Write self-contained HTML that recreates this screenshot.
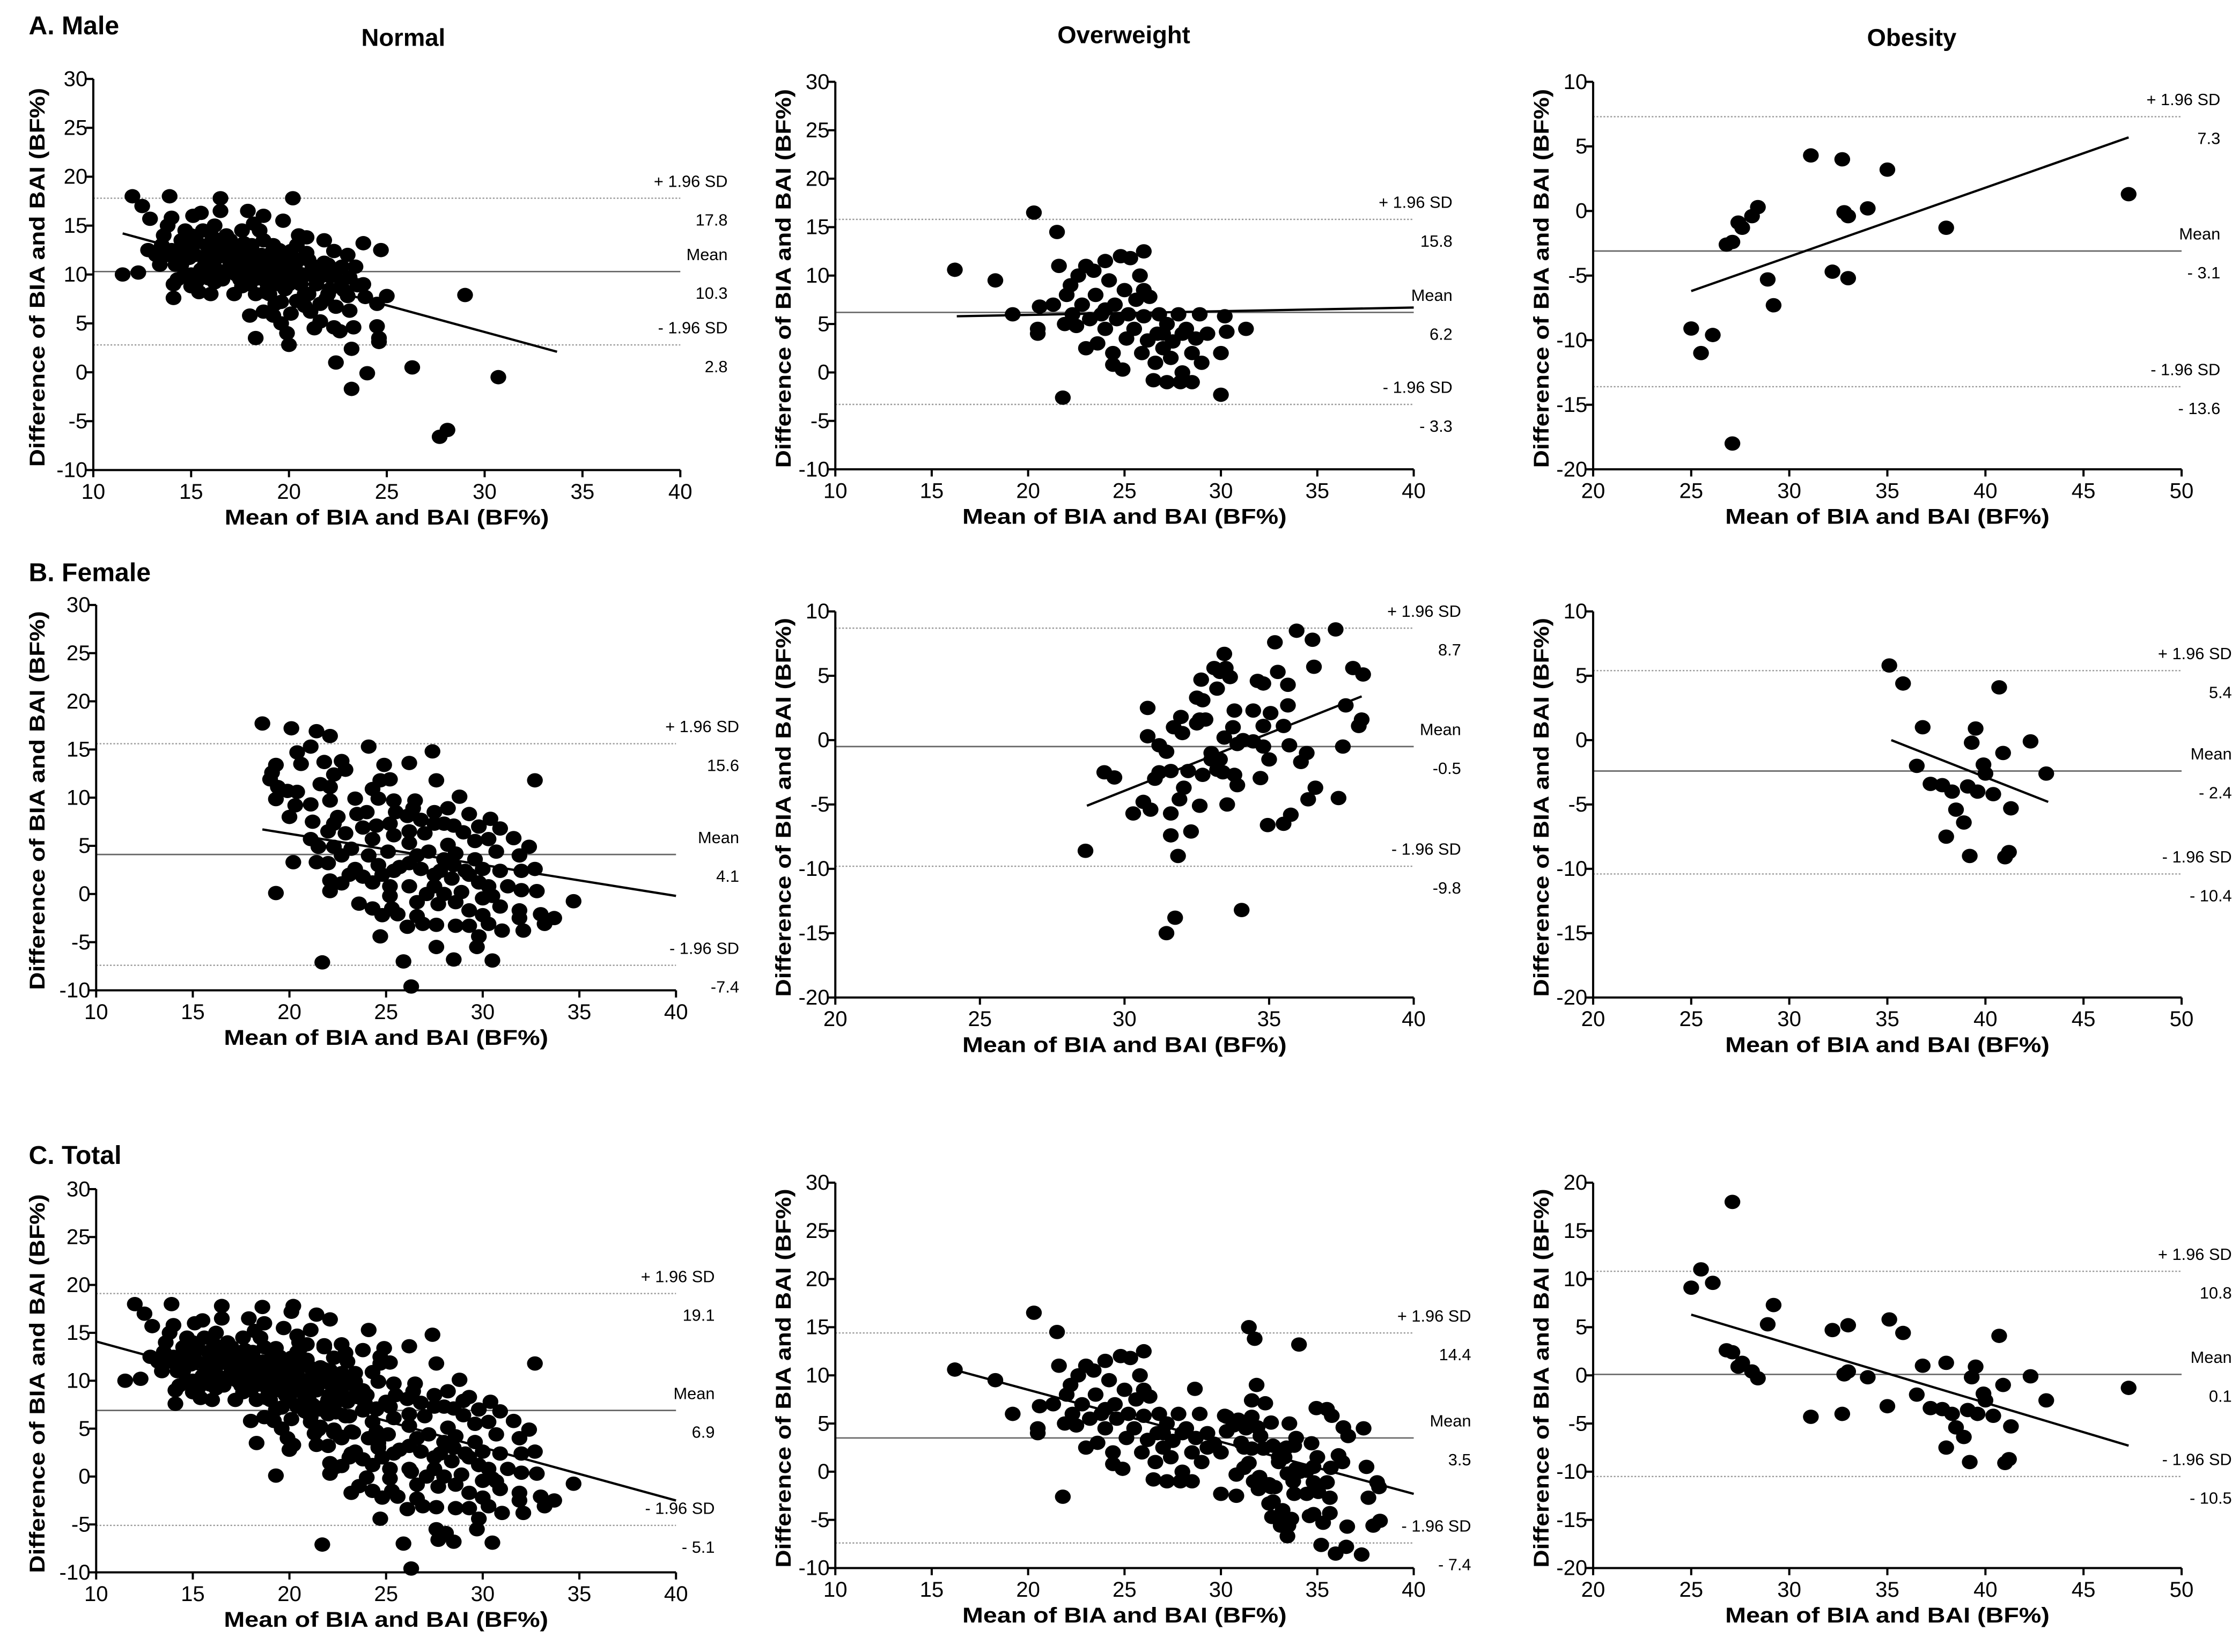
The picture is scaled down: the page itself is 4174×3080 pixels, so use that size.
<!DOCTYPE html>
<html><head><meta charset="utf-8"><style>
html,body{margin:0;padding:0;background:#fff;}
svg{display:block;font-family:"Liberation Sans",Arial,sans-serif;}
</style></head><body>
<svg id="fig" width="4174" height="3080" viewBox="0 0 1560 1151" preserveAspectRatio="none" xmlns="http://www.w3.org/2000/svg">
<rect x="0" y="0" width="1560" height="1151" fill="#fff"/>
<text x="20" y="24" font-size="18" font-weight="bold">A. Male</text>
<text x="20" y="405" font-size="18" font-weight="bold">B. Female</text>
<text x="20" y="811" font-size="18" font-weight="bold">C. Total</text>
<text x="281" y="32" font-size="17" font-weight="bold" text-anchor="middle">Normal</text>
<text x="783" y="30" font-size="17" font-weight="bold" text-anchor="middle">Overweight</text>
<text x="1332" y="32" font-size="17" font-weight="bold" text-anchor="middle">Obesity</text>
</svg>
<script>
// ---- data (x = mean of BIA and BAI, y = difference) ----
const maleNormal = [[11.5,10],[12.3,10.2],[12,18],[12.5,17],[12.9,15.7],[13.2,12],[13.3,11.9],[13.6,14],[13.9,18],[13.8,15],[14,15.8],[14,12.5],[14.1,9],[14.1,7.6],[14.3,9.5],[14.5,11],[14.7,14.5],[14.8,13],[15,10],[15.1,16],[15.2,12],[15.3,9.3],[15.4,8.2],[15.5,16.3],[15.6,14.5],[15.7,11],[15.8,13],[16,8],[16,12.5],[16.2,15],[16.3,10.5],[16.5,17.8],[16.5,16.5],[16.6,9.5],[16.7,12],[16.8,14],[17,11],[17,13.5],[17.2,8],[17.3,10],[17.5,12.5],[17.6,14.5],[17.8,11.5],[17.9,16.5],[18,9],[18,5.8],[18.1,13],[18.2,15.2],[18.3,8],[18.3,3.5],[18.4,10.5],[18.5,14.5],[18.6,12],[18.7,6.2],[18.7,16],[18.9,9],[19,11],[19.2,13],[19.3,7],[19.4,10],[19.5,12.5],[19.6,5],[19.7,15.5],[19.8,8.5],[19.9,4],[20,2.8],[20,11],[20.1,6],[20.2,17.8],[20.3,9.5],[20.4,13],[20.5,14],[20.7,10],[20.8,8],[20.9,13.8],[21,11.5],[21.1,6.2],[21.3,4.5],[21.4,9],[21.5,10.5],[21.6,5.2],[21.8,13.5],[21.9,7.5],[22,11],[22.1,8.5],[22.3,4.6],[22.4,1],[22.4,6.7],[22.6,4.2],[22.7,9.3],[22.7,10.8],[23,12],[23,7.8],[23.1,6.3],[23.2,2.4],[23.2,-1.7],[23.3,4.6],[23.5,8.9],[23.8,9],[23.8,13.2],[23.9,7.7],[24,-0.1],[24.5,7],[24.5,4.7],[24.6,3.1],[24.6,3.5],[24.7,12.5],[25,7.8],[26.3,0.5],[27.7,-6.6],[28.1,-5.9],[29,7.9],[30.7,-0.5],[14.5,13.5],[15,14],[16,11],[17,12],[18,11],[19,10],[20,9],[21,8],[22,8],[17.5,9.5],[19,8],[20.5,11.5],[15.5,10.5],[16.5,13],[18.5,11],[21,10],[19.5,9],[13.5,13],[14.2,11],[12.8,12.5],
[13.4,11],[13.8,12],[14.4,12.3],[14.9,11.7],[15.3,13.3],[15.8,12],[16.1,13.8],[16.4,11.8],[16.9,10.2],[17.1,12.8],[17.4,11.2],[17.7,13.2],[17.9,10.3],[18.2,12.2],[18.4,9.6],[18.7,13.5],[18.9,11.8],[19.1,12.2],[19.3,10.8],[19.6,11.6],[19.8,10.2],[20.1,12.4],[20.3,10.8],[20.6,9],[20.9,12.2],[21.2,10.9],[21.5,9.6],[21.8,11.2],[22.1,9.8],[22.4,10.4],[22.8,8.4],[23.1,9.7],[16.2,9.2],[17.6,8.8],[18.8,8.2],[19.6,7.2],[20.4,7.3],[21.6,7],[15,8.8],[14.6,9.8],[15.9,9.6],[22.3,12.4],[23.4,10.8],[20.8,6.8],[19.2,5.8]];
const maleOverweight = [[16.2,10.6],[18.3,9.5],[19.2,6],[20.3,16.5],[20.5,4.5],[20.6,6.8],[20.5,4],[21.3,7],[21.5,14.5],[21.6,11],[21.8,-2.6],[21.9,5],[22,8],[22.2,9],[22.3,6],[22.5,4.8],[22.6,10],[22.8,7],[23,11],[23,2.5],[23.2,5.5],[23.4,10.5],[23.5,8],[23.6,3],[23.8,6],[24,11.5],[24,4.5],[24.2,9.5],[24.4,2],[24.5,7],[24.6,5.5],[24.8,12],[24.4,0.8],[25,8.5],[25.1,3.5],[25.2,6],[25.3,11.8],[24.9,0.3],[25.5,4.5],[25.6,7.5],[25.8,10],[25.9,2],[26,5.8],[26,12.5],[26.2,3.3],[26.3,7.8],[26.5,-0.8],[26.6,1],[26.7,4],[26.8,6],[27,2.5],[27.2,-1],[27.2,5],[27.4,1.5],[27.5,3.2],[27.9,-1],[27.8,6],[28,0],[28.2,4.5],[28.5,-1],[28.5,2],[28.7,3.5],[28.9,6],[29,1],[29.3,4],[30,2],[30,-2.3],[30.2,5.8],[30.3,4.2],[31.3,4.5],[28,4],[27,4],[26,8.5],[24,6.5]];
const maleObesity = [[25,-9.1],[25.5,-11],[26.1,-9.6],[26.8,-2.6],[27.1,-2.4],[27.1,-18],[27.4,-0.9],[27.6,-1.3],[28.1,-0.4],[28.4,0.3],[28.9,-5.3],[29.2,-7.3],[31.1,4.3],[32.2,-4.7],[32.7,4],[32.8,-0.1],[33,-0.4],[33,-5.2],[34,0.2],[35,3.2],[38,-1.3],[47.3,1.3]];
const femaleNormal = [[18.6,17.7],[20.1,17.2],[21.4,16.9],[22.1,16.4],[24.1,15.3],[27.4,14.8],[21.1,15.3],[20.4,14.7],[20.6,13.5],[19.3,13.4],[19.1,12.6],[19,11.9],[21.8,13.7],[22.7,13.8],[22.9,12.9],[24.9,13.4],[26.2,13.6],[25.2,11.9],[24.7,11.8],[27.6,11.8],[32.7,11.8],[22.3,12.4],[21.6,11.4],[22.1,11.1],[19.4,11.1],[19.9,10.7],[20.4,10.6],[19.3,9.85],[21.1,9.3],[20.3,9.2],[22.1,9.7],[23.4,9.9],[24.3,10.9],[24.6,9.9],[25.4,9.7],[26.5,9.7],[26.4,8.9],[28.8,10.1],[28.2,8.9],[29.3,8.3],[30.4,7.8],[23.5,8.3],[24,8.5],[20,8],[21.2,7.5],[22.5,8],[22.3,7.3],[25.5,8.5],[26.1,8.1],[27.5,8.5],[28,7.3],[28.5,7.1],[29.8,7],[30.9,6.8],[23.8,6.9],[24.5,7.1],[25.2,7.3],[26.2,6.5],[27,6.3],[29,6.4],[22.9,6.3],[22,6.5],[21.1,5.7],[21.5,4.9],[22.3,4.9],[23.2,4.7],[24.3,5.7],[25.4,6.1],[26.2,5.3],[28.2,5.1],[29.6,5.5],[30.3,5.7],[31.6,5.8],[32.4,4.9],[31.9,4],[30.7,4.4],[27.2,4.4],[28.6,4.2],[25.1,4.4],[24.1,4],[20.2,3.3],[21.4,3.3],[22,3.2],[22.7,4],[23.4,2.6],[24.6,3],[25.4,2.4],[26.2,3.2],[26.8,2.6],[27.8,2.4],[28.5,3],[29.3,2],[30,2.6],[30.9,2.4],[32,2.4],[32.7,2.6],[23.1,2],[23.8,1.8],[24.3,1.2],[22.1,1.4],[22.7,1.1],[22.1,0.3],[19.3,0.1],[25.2,0.8],[26.2,0.8],[27.5,0.8],[28,0],[28.9,0.2],[30.3,0.8],[31.3,0.8],[32,0.4],[32.8,0.3],[34.7,-0.75],[23.6,-1],[24.3,-1.5],[25.2,-0.2],[25.3,-1.5],[25.6,-2.1],[26.6,-0.85],[27.7,-1.05],[28.6,-0.85],[29.3,-1.7],[30,-0.45],[30.9,-1.3],[31.9,-1.7],[31.9,-2.5],[24.8,-2.2],[26.6,-2.3],[30,-2.2],[33,-2.1],[33.7,-2.5],[26.1,-3.4],[26.9,-3.1],[27.6,-3.2],[28.6,-3.3],[29.3,-3.3],[29.8,-4.4],[30.3,-3.1],[31,-3.8],[32.1,-3.8],[33.2,-3.1],[24.7,-4.4],[27.6,-5.5],[29.7,-5.5],[21.7,-7.1],[25.9,-7],[28.5,-6.8],[30.5,-6.9],[26.3,-9.6],[26.8,7.7],[27.5,7.3],[28.4,1.6],[29.8,1.2],[30.5,-0.2],[27.1,0],[25.7,2.8],[24.8,2],[29.1,2.4],[27.5,2],[29.6,3.6],[28,3.6],[26.6,4]];
const femaleOverweight = [[28.65,-8.6],[29.3,-2.5],[29.65,-2.9],[30.3,-5.7],[30.65,-4.8],[30.9,-5.4],[30.8,2.5],[30.8,0.3],[31.2,-0.4],[31.45,-0.9],[31.05,-3],[31.2,-2.5],[31.6,-2.4],[31.6,-5.7],[31.6,-7.4],[31.85,-9],[31.75,-13.8],[31.45,-15],[31.7,1],[31.95,1.8],[32,0.55],[32.05,-3.7],[31.9,-4.6],[32.3,-7.1],[32.2,-2.4],[32.5,1.3],[32.5,3.3],[32.7,3.1],[32.6,1.6],[32.8,1.6],[32.65,4.7],[32.7,-2.7],[32.6,-5.1],[33,-1],[33,-1.5],[33.1,5.6],[33.2,4],[33.3,5.3],[33.45,6.7],[33.5,5.6],[33.65,4.9],[33.2,-2.3],[33.4,-2.5],[33.3,-1.5],[33.45,0.2],[33.75,1],[33.8,2.3],[33.9,-0.3],[34.1,0],[33.8,-2.7],[33.9,-3.5],[33.55,-5],[34.05,-13.2],[34.45,2.3],[34.45,-0.1],[34.6,4.6],[34.8,4.4],[34.8,1.1],[34.7,-2.95],[34.8,-0.5],[35,-1.5],[35.05,2.1],[34.95,-6.6],[35.2,7.6],[35.3,5.3],[35.5,1.1],[35.65,4.3],[35.65,2.7],[35.7,-0.4],[35.5,-6.5],[35.75,-5.8],[35.95,8.5],[36.1,-1.7],[36.3,-1],[36.35,-4.6],[36.6,-3.7],[36.5,7.8],[36.55,5.7],[37.3,8.6],[37.4,-4.5],[37.55,-0.5],[37.65,2.7],[37.9,5.6],[38.25,5.1],[38.2,1.6],[38.1,1.1]];
const femaleObesity = [[35.1,5.8],[35.8,4.4],[36.5,-2],[36.8,1],[37.2,-3.4],[37.8,-3.5],[38,-7.5],[38.3,-4],[38.5,-5.4],[38.9,-6.4],[39.1,-3.6],[39.2,-9],[39.3,-0.2],[39.5,0.9],[39.6,-4],[39.9,-1.9],[40,-2.6],[40.4,-4.2],[40.7,4.1],[40.9,-1],[41,-9.1],[41.2,-8.7],[41.3,-5.3],[42.3,-0.1],[43.1,-2.6]];
// total groups are the pooled male + female samples (difference sign as plotted in the source)
const totalNormal = maleNormal.concat(femaleNormal);
const totalOverweight = maleOverweight.concat(femaleOverweight.map(p => [p[0], -p[1]]));
const totalObesity = maleObesity.map(p => [p[0], -p[1]]).concat(femaleObesity);
// regression line endpoints [[x1,y1],[x2,y2]]
const regMaleNormal = [[11.5,14.2],[33.7,2.1]];
const regMaleOverweight = [[16.3,5.8],[40,6.7]];
const regMaleObesity = [[25,-6.2],[47.3,5.7]];
const regFemaleNormal = [[18.6,6.7],[40,-0.2]];
const regFemaleOverweight = [[28.7,-5.1],[38.2,3.4]];
const regFemaleObesity = [[35.2,0],[43.2,-4.8]];
const regTotalNormal = [[10,14.1],[40,-2.5]];
const regTotalOverweight = [[16.3,10.5],[40,-2.3]];
const regTotalObesity = [[25,6.3],[47.3,-7.3]];
// limits of agreement: [upper, mean, lower] and printed labels
const loaMaleNormal = [17.8, 10.3, 2.8];      const loaTxtMaleNormal = ["17.8","10.3","2.8"];
const loaMaleOverweight = [15.8, 6.2, -3.3];  const loaTxtMaleOverweight = ["15.8","6.2","- 3.3"];
const loaMaleObesity = [7.3, -3.1, -13.6];    const loaTxtMaleObesity = ["7.3","- 3.1","- 13.6"];
const loaFemaleNormal = [15.6, 4.1, -7.4];    const loaTxtFemaleNormal = ["15.6","4.1","-7.4"];
const loaFemaleOverweight = [8.7, -0.5, -9.8];const loaTxtFemaleOverweight = ["8.7","-0.5","-9.8"];
const loaFemaleObesity = [5.4, -2.4, -10.4];  const loaTxtFemaleObesity = ["5.4","- 2.4","- 10.4"];
const loaTotalNormal = [19.1, 6.9, -5.1];     const loaTxtTotalNormal = ["19.1","6.9","- 5.1"];
const loaTotalOverweight = [14.4, 3.5, -7.4]; const loaTxtTotalOverweight = ["14.4","3.5","- 7.4"];
const loaTotalObesity = [10.8, 0.1, -10.5];   const loaTxtTotalObesity = ["10.8","0.1","- 10.5"];
// axis ranges [min, max, step]
const xRangeLow = [10, 40, 5];
const xRangeOw = [20, 40, 5];
const xRangeOb = [20, 50, 5];
const yRangeWide = [-10, 30, 5];
const yRangeMid = [-20, 10, 5];
const yRangeOb = [-20, 20, 5];

const NS = "http://www.w3.org/2000/svg";
const svg = document.getElementById("fig");
function mk(tag, attrs, parent) {
  const e = document.createElementNS(NS, tag);
  for (const k in attrs) e.setAttribute(k, attrs[k]);
  (parent || svg).appendChild(e);
  return e;
}
const panels = [
  {id:"male-normal", L:65, R:474, T:55, B:327.5, xr:xRangeLow, yr:yRangeWide, pts:maleNormal, reg:regMaleNormal, loa:loaMaleNormal, txt:loaTxtMaleNormal, lx:507, yt:27},
  {id:"male-overweight", L:582, R:985, T:57, B:327, xr:xRangeLow, yr:yRangeWide, pts:maleOverweight, reg:regMaleOverweight, loa:loaMaleOverweight, txt:loaTxtMaleOverweight, lx:1012, yt:547},
  {id:"male-obesity", L:1110, R:1520, T:57, B:327, xr:xRangeOb, yr:yRangeMid, pts:maleObesity, reg:regMaleObesity, loa:loaMaleObesity, txt:loaTxtMaleObesity, lx:1547, yt:1075},
  {id:"female-normal", L:67, R:471, T:421.5, B:690, xr:xRangeLow, yr:yRangeWide, pts:femaleNormal, reg:regFemaleNormal, loa:loaFemaleNormal, txt:loaTxtFemaleNormal, lx:515, yt:27},
  {id:"female-overweight", L:582, R:985, T:426, B:695, xr:xRangeOw, yr:yRangeMid, pts:femaleOverweight, reg:regFemaleOverweight, loa:loaFemaleOverweight, txt:loaTxtFemaleOverweight, lx:1018, yt:547},
  {id:"female-obesity", L:1110, R:1520, T:426, B:695, xr:xRangeOb, yr:yRangeMid, pts:femaleObesity, reg:regFemaleObesity, loa:loaFemaleObesity, txt:loaTxtFemaleObesity, lx:1555, yt:1075},
  {id:"total-normal", L:67, R:471, T:828.5, B:1095.5, xr:xRangeLow, yr:yRangeWide, pts:totalNormal, reg:regTotalNormal, loa:loaTotalNormal, txt:loaTxtTotalNormal, lx:498, yt:27},
  {id:"total-overweight", L:582, R:985, T:824, B:1092.5, xr:xRangeLow, yr:yRangeWide, pts:totalOverweight, reg:regTotalOverweight, loa:loaTotalOverweight, txt:loaTxtTotalOverweight, lx:1025, yt:547},
  {id:"total-obesity", L:1110, R:1520, T:824, B:1092.5, xr:xRangeOb, yr:yRangeOb, pts:totalObesity, reg:regTotalObesity, loa:loaTotalObesity, txt:loaTxtTotalObesity, lx:1555, yt:1075}
];
const loaNames = ["upper-limit","mean-difference","lower-limit"];
const loaHead = ["+ 1.96 SD","Mean","- 1.96 SD"];
panels.forEach(p => {
  const g = mk("g", {});
  
  
  const sx = v => p.L + (v - p.xr[0]) / (p.xr[1] - p.xr[0]) * (p.R - p.L);
  const sy = v => p.B - (v - p.yr[0]) / (p.yr[1] - p.yr[0]) * (p.B - p.T);
  p.loa.forEach((v, i) => {
    const y = sy(v);
    const ln = mk("line", {x1:p.L, x2:p.R, y1:y, y2:y, stroke: i===1 ? "#666" : "#999", "stroke-width": i===1 ? 1 : 0.9, "stroke-dasharray": i===1 ? "none" : "1.2 1.2"}, g);
    
    
    const t1 = mk("text", {x:p.lx, y:y-11, "font-size":11.5, "text-anchor":"end", "dominant-baseline":"middle"}, g);
    t1.textContent = loaHead[i];
    
    
    const t2 = mk("text", {x:p.lx, y:y+16, "font-size":11.5, "text-anchor":"end", "dominant-baseline":"middle"}, g);
    t2.textContent = p.txt[i];
    
    
  });
  p.pts.forEach(pt => {
    const c = mk("ellipse", {cx:sx(pt[0]), cy:sy(pt[1]), rx:5.5, ry:5, fill:"#000"}, g);
    
    
  });
  const rl = mk("line", {x1:sx(p.reg[0][0]), y1:sy(p.reg[0][1]), x2:sx(p.reg[1][0]), y2:sy(p.reg[1][1]), stroke:"#000", "stroke-width":1.6}, g);
  
  
  const ax = mk("path", {d:`M${p.L},${p.T} L${p.L},${p.B} L${p.R},${p.B}`, fill:"none", stroke:"#000", "stroke-width":1.5}, g);
  
  
  for (let v = p.xr[0]; v <= p.xr[1] + 1e-9; v += p.xr[2]) {
    const x = sx(v);
    mk("line", {x1:x, x2:x, y1:p.B, y2:p.B+5, stroke:"#000", "stroke-width":1.5}, g);
    const t = mk("text", {x:x, y:p.B+16, "font-size":15, "text-anchor":"middle", "dominant-baseline":"middle"}, g);
    t.textContent = v;
    
    
  }
  for (let v = p.yr[0]; v <= p.yr[1] + 1e-9; v += p.yr[2]) {
    const y = sy(v);
    mk("line", {x1:p.L-5, x2:p.L, y1:y, y2:y, stroke:"#000", "stroke-width":1.5}, g);
    const t = mk("text", {x:p.L-4, y:y+1, "font-size":15, "text-anchor":"end", "dominant-baseline":"middle"}, g);
    t.textContent = v;
    
    
  }
  const xt = mk("text", {x:(p.L+p.R)/2, y:p.B+34, "font-size":15, "font-weight":"bold", "text-anchor":"middle", "dominant-baseline":"middle", textLength:226, lengthAdjust:"spacingAndGlyphs"}, g);
  xt.textContent = "Mean of BIA and BAI (BF%)";
  
  
  const cy = (p.T + p.B) / 2 + 2;
  const yt = mk("text", {x:p.yt, y:cy, "font-size":15, "font-weight":"bold", "text-anchor":"middle", "dominant-baseline":"middle", textLength:264, lengthAdjust:"spacingAndGlyphs", transform:`rotate(-90 ${p.yt} ${cy})`}, g);
  yt.textContent = "Difference of BIA and BAI (BF%)";
  
  
});
</script>
</body></html>
